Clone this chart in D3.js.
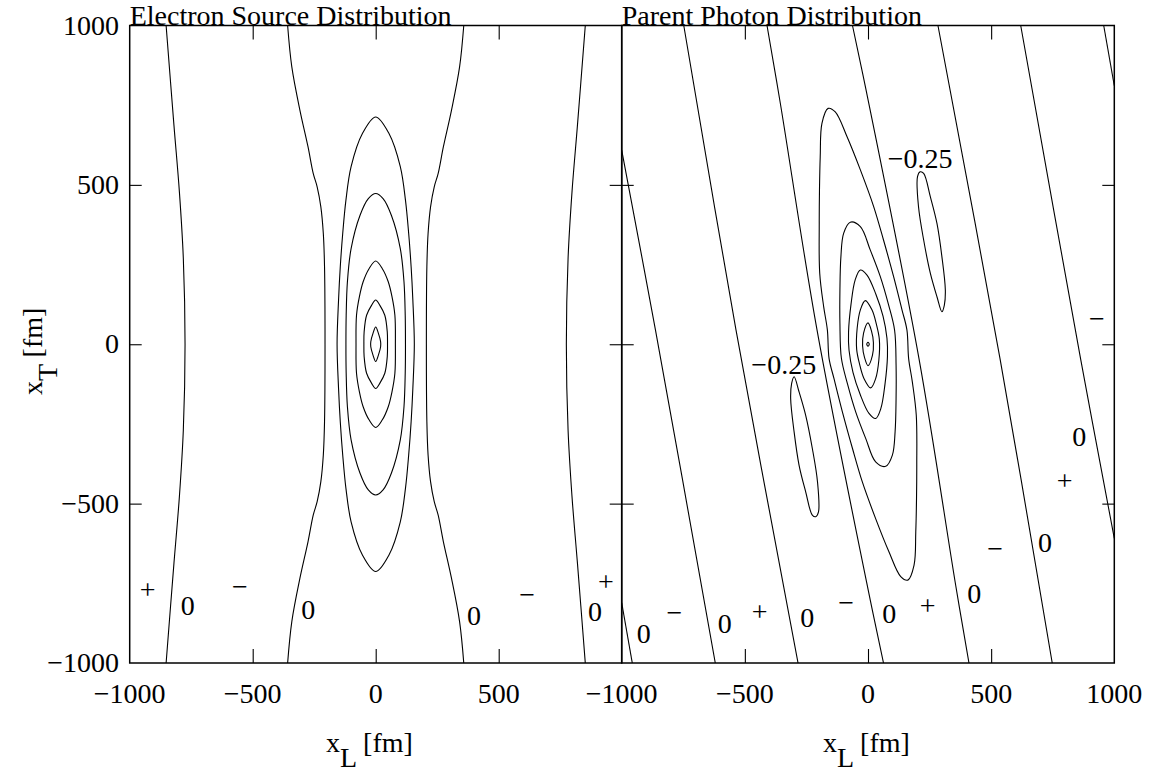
<!DOCTYPE html>
<html>
<head>
<meta charset="utf-8">
<script src="https://cdn.jsdelivr.net/npm/d3@7"></script>
<style>
  body { margin: 0; background: #fff; }
  svg text { font-family: "Liberation Serif", "Times New Roman", serif; fill: #000; }
</style>
</head>
<body>
<svg id="chart" width="1160" height="774"></svg>
<script>
// ---------- axis settings ----------
const xDomain = [-1000, 1000];
const yDomain = [-1000, 1000];
const tickValues = [-1000, -500, 0, 500, 1000];
const leftTickLabels = [-1000, -500, 0, 500];
const rightTickLabels = [-1000, -500, 0, 500, 1000];
const yTickLabels = [-1000, -500, 0, 500, 1000];
const titles = ["Electron Source Distribution", "Parent Photon Distribution"];

// ---------- electron source contours (x_L, x_T in fm) ----------
// closed level curves around the central peak, outermost first
const eRing5 = [[0,713],[54,661],[100,557],[121,452],[134,348],[144,243],[151,139],[157,0],[151,-139],[144,-243],[134,-348],[121,-452],[100,-557],[54,-661],[0,-713],[-54,-661],[-100,-557],[-121,-452],[-134,-348],[-144,-243],[-151,-139],[-157,0],[-151,139],[-144,243],[-134,348],[-121,452],[-100,557],[-54,661]];
const eRing4 = [[0,473],[30,457],[64,404],[100,300],[115,196],[120,91],[121,0],[120,-91],[115,-196],[100,-300],[64,-404],[30,-457],[0,-473],[-30,-457],[-64,-404],[-100,-300],[-115,-196],[-120,-91],[-121,0],[-120,91],[-115,196],[-100,300],[-64,404],[-30,457]];
const eRing3 = [[0,261],[27,237],[51,196],[66,150],[78,91],[80,0],[78,-91],[66,-150],[51,-196],[27,-237],[0,-261],[-27,-237],[-51,-196],[-66,-150],[-78,-91],[-80,0],[-78,91],[-66,150],[-51,196],[-27,237]];
const eRing2 = [[0,139],[17,122],[37,91],[47,39],[48,0],[47,-39],[37,-91],[17,-122],[0,-139],[-17,-122],[-37,-91],[-47,-39],[-48,0],[-47,39],[-37,91],[-17,122]];
const eRing1 = [[0,54],[11,34],[20,8],[20,-8],[11,-34],[0,-54],[-11,-34],[-20,-8],[-20,8],[-11,34]];
// zero-level curves running top to bottom
const eZeroA = [[-852,1000],[-820,686],[-798,478],[-782,269],[-775,0],[-782,-269],[-798,-478],[-820,-686],[-852,-1000]];
const eZeroB = [[-358,1000],[-341,870],[-308,734],[-275,619],[-254,536],[-238,494],[-223,431],[-213,348],[-208,243],[-206,0],[-208,-243],[-213,-348],[-223,-431],[-238,-494],[-254,-536],[-275,-619],[-308,-734],[-341,-870],[-358,-1000]];
const eZeroC = [[358,1000],[341,870],[308,734],[275,619],[254,536],[238,494],[223,431],[213,348],[208,243],[206,0],[208,-243],[213,-348],[223,-431],[238,-494],[254,-536],[275,-619],[308,-734],[341,-870],[358,-1000]];
const eZeroD = [[852,1000],[820,686],[798,478],[782,269],[775,0],[782,-269],[798,-478],[820,-686],[852,-1000]];
// sign / level annotations: [x_L, x_T, text]
const eLabels = [[-927,-779,"+"],[-764,-818,"0"],[-552,-768,"\u2212"],[-274,-833,"0"],[400,-852,"0"],[616,-795,"\u2212"],[891,-839,"0"],[936,-753,"+"]];

// ---------- parent photon contours ----------
const pRing5 = [[-162,740],[-133,729],[-85,651],[-31,547],[23,432],[63,327],[104,212],[138,108],[158,45],[165,-45],[180,-118],[196,-223],[198,-379],[197,-483],[194,-588],[187,-693],[162,-740],[133,-729],[85,-651],[31,-547],[-23,-432],[-63,-327],[-104,-212],[-138,-108],[-158,-45],[-165,45],[-180,118],[-196,223],[-198,379],[-197,483],[-194,588],[-187,693]];
const pRing4 = [[-72,383],[-31,369],[9,296],[50,212],[83,125],[108,44],[114,-66],[114,-170],[110,-275],[99,-348],[72,-383],[31,-369],[-9,-296],[-50,-212],[-83,-125],[-108,-44],[-114,66],[-114,170],[-110,275],[-99,348]];
const pRing3 = [[-31,233],[-4,217],[32,157],[61,88],[77,19],[79,-38],[69,-125],[52,-202],[31,-233],[4,-217],[-32,-157],[-61,-88],[-77,-19],[-79,38],[-69,125],[-52,202]];
const pRing2 = [[-11,137],[16,108],[34,63],[46,16],[44,-50],[31,-108],[11,-137],[-16,-108],[-34,-63],[-46,-16],[-44,50],[-31,108]];
const pRing1 = [[0,67],[14,42],[22,5],[18,-35],[0,-67],[-14,-42],[-22,-5],[-18,35]];
const pDot = [[0,6],[5,0],[0,-6],[-5,0]];
// the two -0.25 troughs
const pTroughUpper = [[212,541],[226,536],[253,463],[280,379],[300,275],[314,170],[310,123],[300,102],[280,149],[253,223],[226,327],[205,432],[201,526]];
const pTroughLower = [[-212,-541],[-226,-536],[-253,-463],[-280,-379],[-300,-275],[-314,-170],[-310,-123],[-300,-102],[-280,-149],[-253,-223],[-226,-327],[-205,-432],[-201,-526]];
// zero-level curves, left to right
const pZeroA = [[-1000,-811],[-957,-1000]];
const pZeroB = [[-1000,609],[-863,45],[-620,-1000]];
const pZeroC = [[-748,1000],[-536,45],[-284,-1000]];
const pZeroD = [[-410,1000],[-356,756],[-207,45],[9,-802],[63,-1000]];
const pZeroE = [[-63,1000],[-9,802],[207,-45],[356,-756],[410,-1000]];
const pZeroF = [[284,1000],[536,-45],[748,-1000]];
const pZeroG = [[620,1000],[863,-45],[1000,-609]];
const pZeroH = [[957,1000],[1000,811]];
const pLabels = [[212,583,"\u22120.25"],[-342,-65,"\u22120.25"],[858,-288,"0"],[798,-436,"+"],[719,-622,"0"],[516,-648,"\u2212"],[431,-783,"0"],[242,-829,"+"],[86,-846,"0"],[-89,-818,"\u2212"],[-247,-856,"0"],[-440,-847,"+"],[-582,-877,"0"],[-786,-849,"\u2212"],[-910,-908,"0"],[929,71,"\u2212"]];

// ---------- layout ----------
const svg = d3.select("#chart");
const plotTop = 25.5, plotBottom = 663;
const y = d3.scaleLinear().domain(yDomain).range([plotBottom, plotTop]);
const FONT = 28;

const panels = [
  { x: d3.scaleLinear().domain(xDomain).range([129.7, 621.7]), title: titles[0],
    closed: [eRing5, eRing4, eRing3, eRing2, eRing1], open: [eZeroA, eZeroB, eZeroC, eZeroD],
    labels: eLabels, xLabels: leftTickLabels, yLabels: true, xTitleX: 326 },
  { x: d3.scaleLinear().domain(xDomain).range([621.7, 1114.3]), title: titles[1],
    closed: [pRing5, pRing4, pRing3, pRing2, pRing1, pDot, pTroughUpper, pTroughLower],
    open: [pZeroA, pZeroB, pZeroC, pZeroD, pZeroE, pZeroF, pZeroG, pZeroH],
    labels: pLabels, xLabels: rightTickLabels, yLabels: false, xTitleX: 823 }
];

const fmt = d => d3.format("d")(d);

panels.forEach((p, i) => {
  const x = p.x;
  const [x0, x1] = x.range();
  const g = svg.append("g");

  const clipId = "clip" + i;
  svg.append("clipPath").attr("id", clipId)
    .append("rect").attr("x", x0).attr("y", plotTop).attr("width", x1 - x0).attr("height", plotBottom - plotTop);

  const body = g.append("g").attr("clip-path", `url(#${clipId})`);
  const openLine = d3.line().x(d => x(d[0])).y(d => y(d[1])).curve(d3.curveCatmullRom.alpha(0.5));
  const closedLine = d3.line().x(d => x(d[0])).y(d => y(d[1])).curve(d3.curveCatmullRomClosed.alpha(0.5));

  body.selectAll("path.open").data(p.open).join("path")
    .attr("class", "open").attr("d", openLine)
    .attr("fill", "none").attr("stroke", "#000").attr("stroke-width", 1.1);
  body.selectAll("path.closed").data(p.closed).join("path")
    .attr("class", "closed").attr("d", closedLine)
    .attr("fill", "none").attr("stroke", "#000").attr("stroke-width", 1.1);

  // contour annotations
  g.selectAll("text.lab").data(p.labels).join("text")
    .attr("class", "lab")
    .attr("x", d => x(d[0])).attr("y", d => y(d[1]))
    .attr("dy", d => (d[2] === "+" || d[2] === "\u2212") ? "0.24em" : "0.34em")
    .attr("text-anchor", "middle").attr("font-size", FONT)
    .text(d => d[2]);

  // inward ticks on all four sides
  const inner = tickValues.filter(v => v > -1000 && v < 1000);
  g.append("g").attr("transform", `translate(0,${plotBottom})`)
    .call(d3.axisBottom(x).tickValues(inner).tickSize(-14).tickFormat(""))
    .call(a => a.select(".domain").remove());
  g.append("g").attr("transform", `translate(0,${plotTop})`)
    .call(d3.axisTop(x).tickValues(inner).tickSize(-14).tickFormat(""))
    .call(a => a.select(".domain").remove());
  g.append("g").attr("transform", `translate(${x0},0)`)
    .call(d3.axisLeft(y).tickValues(inner).tickSize(-12).tickFormat(""))
    .call(a => a.select(".domain").remove());
  g.append("g").attr("transform", `translate(${x1},0)`)
    .call(d3.axisRight(y).tickValues(inner).tickSize(-12).tickFormat(""))
    .call(a => a.select(".domain").remove());
  g.selectAll(".tick line").attr("stroke", "#000").attr("stroke-width", 1.1);

  // frame
  g.append("rect").attr("x", x0).attr("y", plotTop).attr("width", x1 - x0).attr("height", plotBottom - plotTop)
    .attr("fill", "none").attr("stroke", "#000").attr("stroke-width", 1.5);

  // x tick labels
  g.selectAll("text.xt").data(p.xLabels).join("text")
    .attr("class", "xt").attr("x", d => x(d)).attr("y", 703)
    .attr("text-anchor", "middle").attr("font-size", FONT)
    .text(fmt);

  // y tick labels
  if (p.yLabels) {
    g.selectAll("text.yt").data(yTickLabels).join("text")
      .attr("class", "yt").attr("x", 119).attr("y", d => y(d)).attr("dy", "0.33em")
      .attr("text-anchor", "end").attr("font-size", FONT)
      .text(fmt);
  }

  // panel title
  g.append("text").attr("x", x0).attr("y", 25).attr("font-size", FONT).text(p.title);

  // x axis title
  const xt = g.append("text").attr("x", p.xTitleX).attr("y", 752).attr("font-size", FONT);
  xt.append("tspan").text("x");
  xt.append("tspan").attr("dy", 15).text("L");
  xt.append("tspan").attr("dy", -15).text(" [fm]");
});

// y axis title
const yt = svg.append("text").attr("transform", "translate(42,395) rotate(-90)").attr("font-size", FONT);
yt.append("tspan").text("x");
yt.append("tspan").attr("dy", 15).text("T");
yt.append("tspan").attr("dy", -15).text(" [fm]");
</script>
</body>
</html>
